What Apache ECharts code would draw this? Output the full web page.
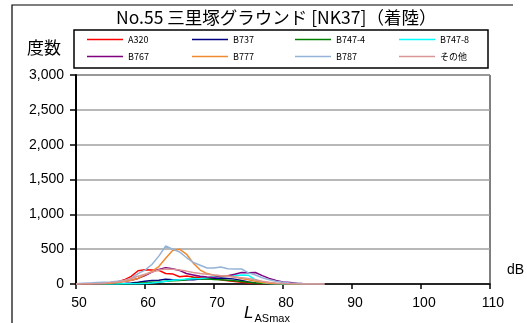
<!DOCTYPE html>
<html><head><meta charset="utf-8">
<script src="https://cdn.jsdelivr.net/npm/echarts@6/dist/echarts.min.js"></script>
<style>html,body{margin:0;padding:0;background:#fff}#c{width:527px;height:323px}</style>
</head><body><div id="c"></div>
<script>
var title = 'No.55 三里塚グラウンド [NK37]（着陸）';
var xStart = 50;
var seriesNames = ['A320','B737','B747-4','B747-8','B767','B777','B787','その他'];
var A320  = [0,0,2,5,10,18,30,60,110,190,205,200,195,150,145,105,115,100,95,85,80,60,45,35,25,15,8,4,2,1,0,0,0,0,0,0,0];
var B737  = [0,0,0,1,2,3,5,8,15,25,40,50,55,70,60,55,65,60,70,80,75,85,80,70,50,30,15,8,3,1,0,0,0,0,0,0,0];
var B747_4 = [0,0,0,0,1,2,3,5,8,12,18,25,30,40,45,50,60,85,70,75,65,60,55,45,35,25,15,8,3,1,0,0,0,0,0,0,0];
var B747_8 = [0,0,0,0,0,0,1,2,3,5,8,15,25,40,55,60,70,75,80,90,100,110,115,120,130,125,60,20,8,3,1,0,0,0,0,0,0];
var B767  = [0,0,1,3,8,15,25,40,55,80,120,170,210,235,220,195,150,130,110,100,95,110,120,140,165,160,165,120,80,50,30,20,10,5,2,0,0];
var B777  = [0,0,1,2,5,10,20,35,55,80,130,180,250,370,480,500,430,300,200,150,125,120,115,100,80,60,40,20,10,5,2,1,0,0,0,0,0];
var B787  = [5,10,15,20,25,30,40,50,80,150,200,280,400,545,500,460,380,310,270,230,230,245,220,215,215,160,130,90,60,40,25,15,10,5,3,1,0];
var other = [0,2,5,8,12,20,30,45,80,110,140,170,200,215,210,200,185,165,150,140,130,120,110,100,90,80,60,40,25,15,8,4,2,1,0,0,0];
var seriesValues = [A320,B737,B747_4,B747_8,B767,B777,B787,other];
var seriesColors = ['#FF0000','#000080','#008000','#00FFFF','#800080','#F08A30','#95B3D7','#DA9694'];
var yTicks = [0,500,1000,1500,2000,2500,3000];
var xTicks = [50,60,70,80,90,100,110];

var chart = echarts.init(document.getElementById('c'), null, {renderer:'canvas'});
var series = seriesNames.map(function(n,i){
  return {
    name:n, type:'line', symbol:'none', animation:false,
    lineStyle:{width:1.5,color:seriesColors[i]}, itemStyle:{color:seriesColors[i]},
    data: seriesValues[i].map(function(v,k){return [xStart+k, v];})
  };
});
var legX = [87,192,295,399], legY = [35,52];
var legends = seriesNames.map(function(n,i){
  return {
    data:[n], left:legX[i%4], top:legY[Math.floor(i/4)],
    icon:'rect', itemWidth:36, itemHeight:1.5, itemGap:0, padding:0,
    textStyle:{fontSize:9, color:'#000', fontFamily:'Noto Sans CJK JP', padding:[0,0,0,0]},
    selectedMode:false
  };
});
var fmt = function(v){return v.toString().replace(/\B(?=(\d{3})+(?!\d))/g, ',');};
chart.setOption({
  animation:false,
  backgroundColor:'#fff',
  title:{text:title, left:116, top:9, padding:0,
    textStyle:{fontSize:17.5, fontWeight:'normal', color:'#000', fontFamily:'Noto Sans CJK JP'}},
  legend: legends,
  grid:{left:76, right:37, top:75, bottom:39, show:true, borderColor:'#000', borderWidth:1},
  xAxis:{type:'value', min:50, max:110, interval:10,
    axisLine:{show:true, onZero:false, lineStyle:{color:'#000', width:1.5}},
    axisTick:{show:true, length:5, lineStyle:{color:'#000', width:1.5}},
    axisLabel:{fontSize:14, color:'#000', fontFamily:'Liberation Sans', margin:12, padding:[0,0,0,6],
      formatter:function(v){return xTicks.indexOf(v)>=0 ? String(v) : '';}},
    splitLine:{show:false}},
  yAxis:{type:'value', min:0, max:3000, interval:500,
    axisLine:{show:true, lineStyle:{color:'#000', width:2}},
    axisTick:{show:true, length:6, lineStyle:{color:'#000', width:1.5}},
    axisLabel:{fontSize:14, color:'#000', fontFamily:'Liberation Sans', margin:12,
      formatter:function(v){return yTicks.indexOf(v)>=0 ? fmt(v) : '';}},
    splitLine:{show:true, lineStyle:{color:'#A0A0A0', width:1.5}}},
  graphic:[
    {type:'polyline', shape:{points:[[12,330],[12,5],[513,5]]}, style:{stroke:'#000', lineWidth:1.2, fill:null}, silent:true},
    {type:'rect', shape:{x:74, y:30, width:414, height:38}, style:{stroke:'#000', lineWidth:1.5, fill:null}, silent:true, z:-1},
    {type:'text', left:27, top:39, style:{text:'度数', fontSize:17, fill:'#000', fontFamily:'Noto Sans CJK JP'}},
    {type:'text', left:507, top:263, style:{text:'dB', fontSize:14, fill:'#000', fontFamily:'Liberation Sans'}},
    {type:'text', left:244, top:305, style:{
      text:'{l|L}{s|ASmax}', rich:{
        l:{fontSize:17, fontStyle:'italic', fill:'#000', fontFamily:'Liberation Sans', verticalAlign:'top'},
        s:{fontSize:11, fill:'#000', fontFamily:'Liberation Sans', padding:[8,0,0,1]}}}}
  ],
  series: series
});
</script></body></html>
